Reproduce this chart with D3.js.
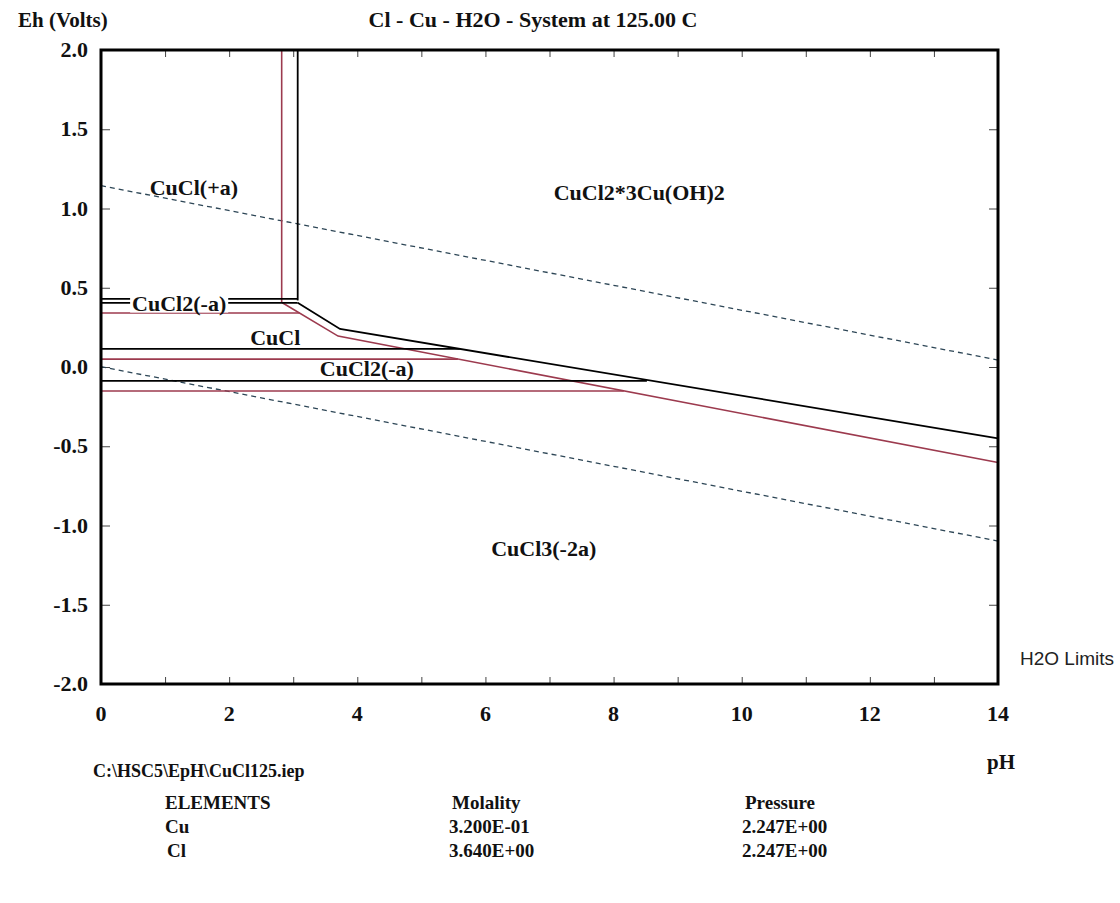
<!DOCTYPE html>
<html>
<head>
<meta charset="utf-8">
<script src="https://cdn.jsdelivr.net/npm/d3@7"></script>
<style>
  html, body { margin: 0; padding: 0; background: #fff; }
  svg { display: block; }
  .lbl { font-family: "Liberation Serif", "Times New Roman", serif; font-weight: bold; fill: #111; }
</style>
</head>
<body>
<div id="chart"></div>
<script>
// ---- data ----
var phTicks = d3.range(0, 15, 1);
var phLabels = [0, 2, 4, 6, 8, 10, 12, 14];
var ehTicks = [-2.0, -1.5, -1.0, -0.5, 0.0, 0.5, 1.0, 1.5, 2.0];

// black boundaries, [pH, Eh]
var blackLines = [
  [[3.07, 2.0], [3.07, 0.42]],
  [[0, 0.43], [3.07, 0.43]],
  [[0, 0.405], [3.07, 0.405]],
  [[3.07, 0.405], [3.73, 0.24], [14, -0.45]],
  [[0, 0.114], [5.6, 0.114]],
  [[0, -0.088], [8.52, -0.088]]
];

// red boundaries
var redLines = [
  [[2.82, 2.0], [2.82, 0.41]],
  [[2.83, 0.405], [3.70, 0.195], [14, -0.603]],
  [[0, 0.341], [3.10, 0.341]],
  [[0, 0.05], [5.57, 0.05]],
  [[0, -0.151], [8.16, -0.151]]
];

// H2O stability limits
var h2oLimits = [
  [[0, 1.144], [14, 0.044]],
  [[0, 0.002], [14, -1.098]]
];

var regionNames = ['CuCl(+a)', 'CuCl2*3Cu(OH)2', 'CuCl2(-a)', 'CuCl', 'CuCl2(-a)', 'CuCl3(-2a)'];
var regionPH    = [1.45, 8.40, 1.22, 2.72, 4.15, 6.91];
var regionEH    = [1.13, 1.10, 0.40, 0.18, -0.01, -1.15];
var regionMask  = [false, false, true, false, false, false];

var elements = ['Cu', 'Cl'];
var molality = ['3.200E-01', '3.640E+00'];
var pressure = ['2.247E+00', '2.247E+00'];

// ---- drawing ----
var W = 1120, H = 903;
var svg = d3.select('#chart').append('svg').attr('width', W).attr('height', H);

var x = d3.scaleLinear().domain([0, 14]).range([101, 998]);
var y = d3.scaleLinear().domain([-2, 2]).range([684, 50]);

var RED = '#9c3a4e';
var line = d3.line().x(function (d) { return x(d[0]); }).y(function (d) { return y(d[1]); });

/* inner ticks on all four sides */
function tickStyle(g) {
  g.select('.domain').remove();
  g.selectAll('.tick line').attr('stroke', '#444').attr('stroke-width', 1);
}
svg.append('g').attr('transform', 'translate(0,684)')
  .call(d3.axisBottom(x).tickValues(phTicks).tickSize(-7).tickFormat(''))
  .call(tickStyle);
svg.append('g').attr('transform', 'translate(0,50)')
  .call(d3.axisTop(x).tickValues(phTicks).tickSize(-7).tickFormat(''))
  .call(tickStyle);
svg.append('g').attr('transform', 'translate(101,0)')
  .call(d3.axisLeft(y).tickValues(ehTicks).tickSize(-9).tickFormat(''))
  .call(tickStyle);
svg.append('g').attr('transform', 'translate(998,0)')
  .call(d3.axisRight(y).tickValues(ehTicks).tickSize(-9).tickFormat(''))
  .call(tickStyle);

/* tick labels */
svg.append('g').selectAll('text').data(phLabels).enter().append('text')
  .attr('class', 'lbl').attr('x', function (d) { return x(d); }).attr('y', 721)
  .attr('text-anchor', 'middle').attr('font-size', 22)
  .text(function (d) { return d; });
svg.append('g').selectAll('text').data(ehTicks).enter().append('text')
  .attr('class', 'lbl').attr('x', 88).attr('y', function (d) { return y(d) + 7; })
  .attr('text-anchor', 'end').attr('font-size', 22)
  .text(function (d) { return d3.format('.1f')(d).replace('−', '-'); });

/* water limits */
svg.append('g').selectAll('path').data(h2oLimits).enter().append('path')
  .attr('d', line).attr('fill', 'none')
  .attr('stroke', '#2d4656').attr('stroke-width', 1.3)
  .attr('stroke-dasharray', '5,4');

/* boundaries */
svg.append('g').selectAll('path').data(redLines).enter().append('path')
  .attr('d', line).attr('fill', 'none')
  .attr('stroke', RED).attr('stroke-width', 1.6);
svg.append('g').selectAll('path').data(blackLines).enter().append('path')
  .attr('d', line).attr('fill', 'none')
  .attr('stroke', '#000').attr('stroke-width', 1.8);

/* region labels */
var lg = svg.append('g');
regionNames.forEach(function (name, i) {
  var t = lg.append('text').attr('class', 'lbl')
    .attr('x', x(regionPH[i])).attr('y', y(regionEH[i]) + 7)
    .attr('text-anchor', 'middle').attr('font-size', 22)
    .text(name);
  if (regionMask[i]) {
    var b = t.node().getBBox();
    lg.insert('rect', function () { return t.node(); })
      .attr('x', b.x - 2).attr('y', b.y + 3).attr('width', b.width + 4).attr('height', b.height - 6)
      .attr('fill', '#fff');
  }
});

/* frame */
svg.append('rect').attr('x', 101).attr('y', 50).attr('width', 897).attr('height', 634)
  .attr('fill', 'none').attr('stroke', '#000').attr('stroke-width', 3);

/* titles */
svg.append('text').attr('class', 'lbl').attr('x', 18).attr('y', 27).attr('font-size', 21).text('Eh (Volts)');
svg.append('text').attr('class', 'lbl').attr('x', 533).attr('y', 27).attr('font-size', 22)
  .attr('text-anchor', 'middle').text('Cl - Cu - H2O - System at 125.00 C');
svg.append('text').attr('x', 1020).attr('y', 665).attr('font-family', 'Liberation Sans, Arial, sans-serif')
  .attr('font-size', 19).attr('fill', '#222').text('H2O Limits');
svg.append('text').attr('class', 'lbl').attr('x', 1001).attr('y', 769).attr('font-size', 21)
  .attr('text-anchor', 'middle').text('pH');
svg.append('text').attr('class', 'lbl').attr('x', 93).attr('y', 777).attr('font-size', 18)
  .text('C:\\HSC5\\EpH\\CuCl125.iep');

/* element table */
var tbl = svg.append('g').attr('class', 'lbl').attr('font-size', 19);
tbl.append('text').attr('x', 165).attr('y', 809).text('ELEMENTS');
tbl.append('text').attr('x', 452).attr('y', 809).text('Molality');
tbl.append('text').attr('x', 745).attr('y', 809).text('Pressure');
elements.forEach(function (el, i) {
  var yy = 833 + i * 24;
  tbl.append('text').attr('x', 165 + i * 2).attr('y', yy).text(el);
  tbl.append('text').attr('x', 449).attr('y', yy).text(molality[i]);
  tbl.append('text').attr('x', 742).attr('y', yy).text(pressure[i]);
});
</script>
</body>
</html>
